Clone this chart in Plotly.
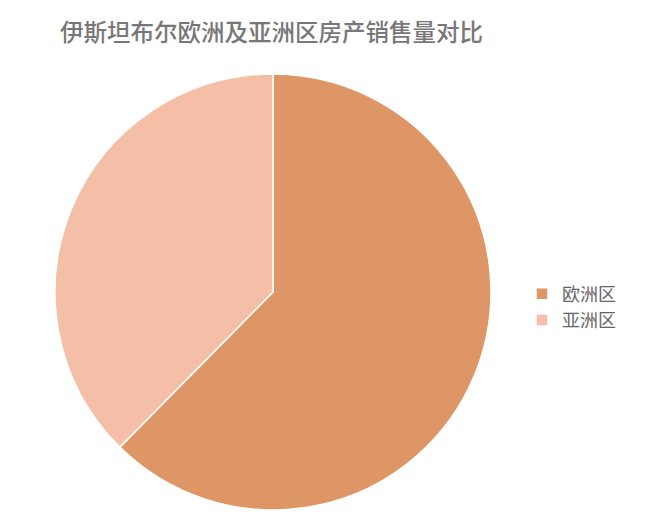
import plotly.graph_objects as go

regions = ["欧洲区", "亚洲区"]
sales = [62.4, 37.6]
slice_colors = ["#DE9666", "#F5BEA6"]

# page body has an 8px margin, so positions below are shifted by 8px
fig = go.Figure(go.Pie(
    labels=regions,
    values=sales,
    sort=False,
    direction="clockwise",
    rotation=0,
    textinfo="none",
    hoverinfo="label+value+percent",
    marker=dict(colors=slice_colors, line=dict(color="white", width=1.5)),
    domain=dict(x=[47 / 645, 483 / 645], y=[1 - 504 / 530, 1 - 64 / 530]),
))

fig.update_layout(
    width=645,
    height=530,
    margin=dict(l=0, r=0, t=0, b=0),
    paper_bgcolor="white",
    font=dict(family="Noto Sans CJK SC", color="#666666"),
    title=dict(
        text="伊斯坦布尔欧洲及亚洲区房产销售量对比",
        x=52 / 645, xanchor="left",
        y=1 - 25 / 530, yanchor="middle",
        font=dict(size=23.5, color="#777777", weight=500),
    ),
    legend=dict(
        x=514 / 645, xanchor="left",
        y=1 - 299 / 530, yanchor="middle",
        font=dict(size=18, color="#666666"),
    ),
)

fig.write_html("out.html")
